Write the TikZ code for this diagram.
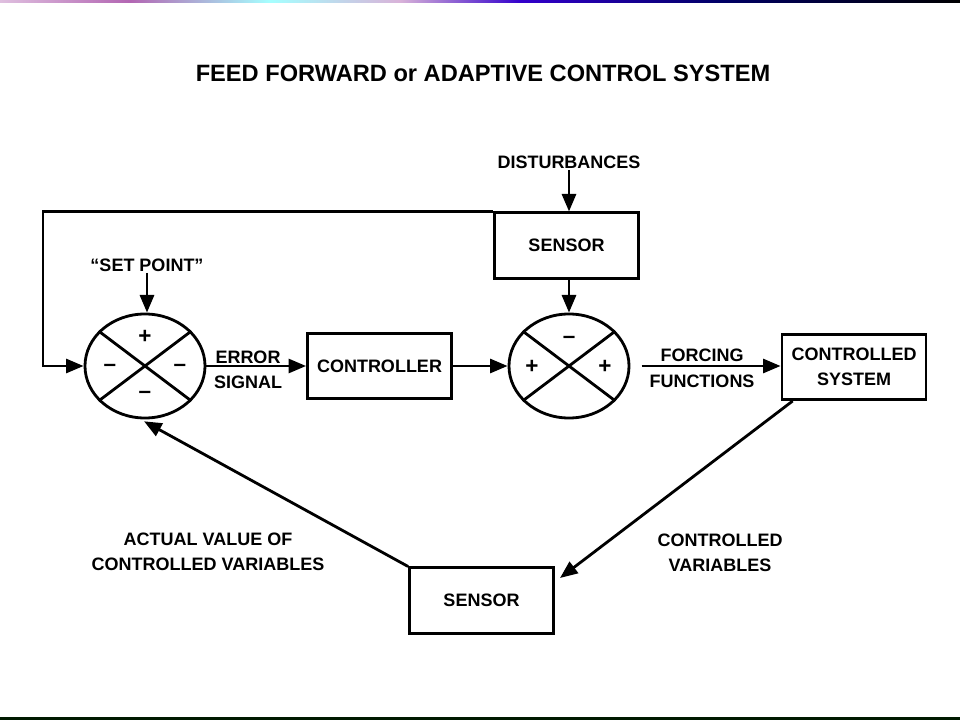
\documentclass[tikz,border=0pt]{standalone}
\usepackage{fontspec}
\setmainfont{Liberation Sans}
\usetikzlibrary{arrows.meta,shapes.geometric}
\begin{document}
\begin{tikzpicture}[x=0.025cm,y=-0.025cm,
    line width=2pt,
    >={Triangle[length=12.5pt,width=10pt]},
    lbl/.style={font=\bfseries\fontsize{12.8}{17.7}\selectfont, inner sep=0pt, align=center},
    blk/.style={draw, rectangle, minimum width=3.6cm, minimum height=1.63cm, inner sep=0pt,
        font=\bfseries\fontsize{12.8}{17.7}\selectfont, align=center},
    sum/.style={draw, ellipse, minimum width=3cm, minimum height=2.6cm, inner sep=0pt},
    sgn/.style={font=\bfseries\fontsize{16}{16}\selectfont, inner sep=0pt}]
\useasboundingbox (0,0) rectangle (960,720);
\shade [left color=violet!25, right color=violet!60] (0,0) rectangle (130,2.5);
\shade [left color=violet!60, right color=cyan!35] (130,0) rectangle (270,2.5);
\shade [left color=cyan!35, right color=violet!30] (270,0) rectangle (400,2.5);
\shade [left color=violet!30, right color=blue!60!violet] (400,0) rectangle (520,2.5);
\shade [left color=blue!60!violet, right color=blue!40!black] (520,0) rectangle (720,2.5);
\shade [left color=blue!40!black, right color=black] (720,0) rectangle (960,2.5);
\fill [black!90!green] (0,717) rectangle (960,720);
\node [lbl, font=\bfseries\fontsize{16.8}{20}\selectfont] (title) at (483,73) {FEED FORWARD or ADAPTIVE CONTROL SYSTEM};
\node [lbl] (dist) at (569,162) {DISTURBANCES};
\node [blk] (sensTop) at (566.5,245.5) {SENSOR};
\node [lbl] (setpt) at (147,265) {``SET POINT''};
\node [sum] (sumA) at (145,366) {};
\node [sum] (sumB) at (569,366) {};
\node [blk] (ctrl) at (379.5,366) {CONTROLLER};
\node [blk] (plant) at (854,367) {CONTROLLED\\SYSTEM};
\node [blk] (sensBot) at (481.5,600.5) {SENSOR};
\node [lbl] (err) at (248,357) {ERROR};
\node [lbl] (sig) at (248,382) {SIGNAL};
\node [lbl] (forc) at (702,355) {FORCING};
\node [lbl] (func) at (702,381) {FUNCTIONS};
\node [lbl] (actual) at (208,552) {ACTUAL VALUE OF\\CONTROLLED VARIABLES};
\node [lbl] (cvar) at (720,553) {CONTROLLED\\VARIABLES};
\draw (sumA.37) -- (sumA.217);
\draw (sumA.143) -- (sumA.323);
\draw (sumB.37) -- (sumB.217);
\draw (sumB.143) -- (sumB.323);
\node [sgn] (aTop) at (145,337) {+};
\node [sgn] (aLeft) at (110,368) {--};
\node [sgn] (aRight) at (180,368) {--};
\node [sgn] (aBot) at (145,395) {--};
\node [sgn] (bTop) at (569,340) {--};
\node [sgn] (bLeft) at (532,367) {+};
\node [sgn] (bRight) at (605,367) {+};
\coordinate (fbCorner) at (43,300);
\coordinate (cvTip) at (560,578);
\draw [->] (dist) -- (dist |- sensTop.north);
\draw [->] (setpt) -- (setpt |- sumA.north);
\draw [->] (sensTop.north west) -| (fbCorner) |- (sumA.west);
\draw [->] (sensTop.south -| sumB) -- (sumB.north);
\draw [->] (sumA.east) -- (ctrl.west);
\draw [->] (ctrl.east) -- (sumB.west);
\draw [->, shorten <=8pt] (sumB.east) -- (sumB.east -| plant.west);
\draw [->] (plant.209) -- (cvTip);
\draw [->, shorten >=3pt] (sensBot.north west) -- (sumA.265);
\end{tikzpicture}
\end{document}
